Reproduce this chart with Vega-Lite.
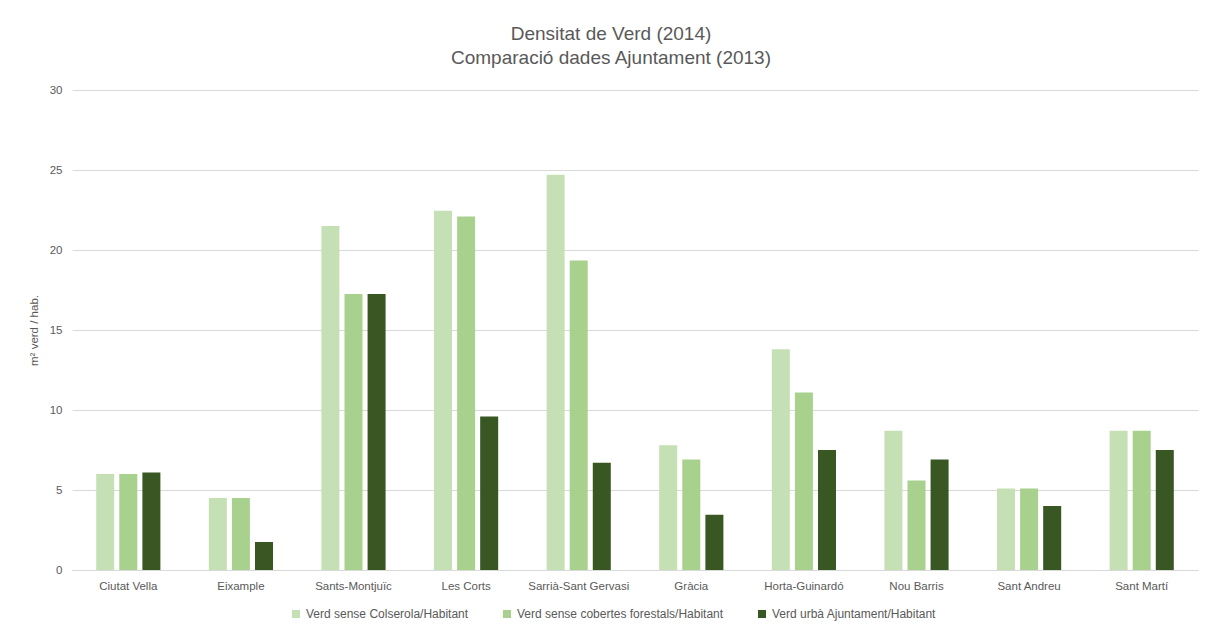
{
  "$schema": "https://vega.github.io/schema/vega-lite/v6.json",
  "autosize": {"type": "none"},
  "width": 1126,
  "height": 480,
  "padding": {"left": 72, "top": 90, "right": 10, "bottom": 60},
  "background": "white",
  "title": {
    "text": ["Densitat de Verd (2014)", "Comparació dades Ajuntament (2013)"],
    "font": "Liberation Sans",
    "fontSize": 19,
    "fontWeight": "normal",
    "color": "#595959",
    "lineHeight": 24,
    "anchor": "middle",
    "dx": -24,
    "offset": 16
  },
  "data": {
    "values": [
      {"districte": "Ciutat Vella", "serie": "Verd sense Colserola/Habitant", "valor": 6.0},
      {"districte": "Ciutat Vella", "serie": "Verd sense cobertes forestals/Habitant", "valor": 6.0},
      {"districte": "Ciutat Vella", "serie": "Verd urbà Ajuntament/Habitant", "valor": 6.1},
      {"districte": "Eixample", "serie": "Verd sense Colserola/Habitant", "valor": 4.5},
      {"districte": "Eixample", "serie": "Verd sense cobertes forestals/Habitant", "valor": 4.5},
      {"districte": "Eixample", "serie": "Verd urbà Ajuntament/Habitant", "valor": 1.75},
      {"districte": "Sants-Montjuïc", "serie": "Verd sense Colserola/Habitant", "valor": 21.5},
      {"districte": "Sants-Montjuïc", "serie": "Verd sense cobertes forestals/Habitant", "valor": 17.25},
      {"districte": "Sants-Montjuïc", "serie": "Verd urbà Ajuntament/Habitant", "valor": 17.25},
      {"districte": "Les Corts", "serie": "Verd sense Colserola/Habitant", "valor": 22.45},
      {"districte": "Les Corts", "serie": "Verd sense cobertes forestals/Habitant", "valor": 22.1},
      {"districte": "Les Corts", "serie": "Verd urbà Ajuntament/Habitant", "valor": 9.6},
      {"districte": "Sarrià-Sant Gervasi", "serie": "Verd sense Colserola/Habitant", "valor": 24.7},
      {"districte": "Sarrià-Sant Gervasi", "serie": "Verd sense cobertes forestals/Habitant", "valor": 19.35},
      {"districte": "Sarrià-Sant Gervasi", "serie": "Verd urbà Ajuntament/Habitant", "valor": 6.7},
      {"districte": "Gràcia", "serie": "Verd sense Colserola/Habitant", "valor": 7.8},
      {"districte": "Gràcia", "serie": "Verd sense cobertes forestals/Habitant", "valor": 6.9},
      {"districte": "Gràcia", "serie": "Verd urbà Ajuntament/Habitant", "valor": 3.45},
      {"districte": "Horta-Guinardó", "serie": "Verd sense Colserola/Habitant", "valor": 13.8},
      {"districte": "Horta-Guinardó", "serie": "Verd sense cobertes forestals/Habitant", "valor": 11.1},
      {"districte": "Horta-Guinardó", "serie": "Verd urbà Ajuntament/Habitant", "valor": 7.5},
      {"districte": "Nou Barris", "serie": "Verd sense Colserola/Habitant", "valor": 8.7},
      {"districte": "Nou Barris", "serie": "Verd sense cobertes forestals/Habitant", "valor": 5.6},
      {"districte": "Nou Barris", "serie": "Verd urbà Ajuntament/Habitant", "valor": 6.9},
      {"districte": "Sant Andreu", "serie": "Verd sense Colserola/Habitant", "valor": 5.1},
      {"districte": "Sant Andreu", "serie": "Verd sense cobertes forestals/Habitant", "valor": 5.1},
      {"districte": "Sant Andreu", "serie": "Verd urbà Ajuntament/Habitant", "valor": 4.0},
      {"districte": "Sant Martí", "serie": "Verd sense Colserola/Habitant", "valor": 8.7},
      {"districte": "Sant Martí", "serie": "Verd sense cobertes forestals/Habitant", "valor": 8.7},
      {"districte": "Sant Martí", "serie": "Verd urbà Ajuntament/Habitant", "valor": 7.5}
    ]
  },
  "mark": {"type": "bar"},
  "encoding": {
    "x": {
      "field": "districte",
      "type": "nominal",
      "sort": null,
      "scale": {"paddingInner": 0.43, "paddingOuter": 0.215},
      "axis": {
        "title": null,
        "labelAngle": 0,
        "ticks": false,
        "domainColor": "#d9d9d9",
        "labelPadding": 10,
        "labelFont": "Liberation Sans",
        "labelFontSize": 11.5,
        "labelColor": "#595959"
      }
    },
    "xOffset": {
      "field": "serie",
      "type": "nominal",
      "sort": null,
      "scale": {"paddingInner": 0.22}
    },
    "y": {
      "field": "valor",
      "type": "quantitative",
      "scale": {"domain": [0, 30], "nice": false},
      "axis": {
        "title": "m² verd / hab.",
        "titleFont": "Liberation Sans",
        "titleFontSize": 11.5,
        "titleFontWeight": "normal",
        "titleColor": "#595959",
        "titlePadding": 10,
        "values": [0, 5, 10, 15, 20, 25, 30],
        "domain": false,
        "ticks": false,
        "gridColor": "#d9d9d9",
        "labelPadding": 10,
        "labelFont": "Liberation Sans",
        "labelFontSize": 11.5,
        "labelColor": "#595959"
      }
    },
    "color": {
      "field": "serie",
      "type": "nominal",
      "sort": null,
      "scale": {
        "domain": ["Verd sense Colserola/Habitant", "Verd sense cobertes forestals/Habitant", "Verd urbà Ajuntament/Habitant"],
        "range": ["#c5e0b4", "#a9d18e", "#385723"]
      },
      "legend": {
        "title": null,
        "orient": "none",
        "legendX": 218,
        "legendY": 518,
        "direction": "horizontal",
        "columns": 3,
        "columnPadding": 32,
        "symbolType": "square",
        "symbolSize": 64,
        "symbolStrokeWidth": 0,
        "labelFont": "Liberation Sans",
        "labelFontSize": 12,
        "labelColor": "#595959",
        "labelLimit": 400
      }
    }
  },
  "config": {
    "view": {"stroke": null}
  }
}
